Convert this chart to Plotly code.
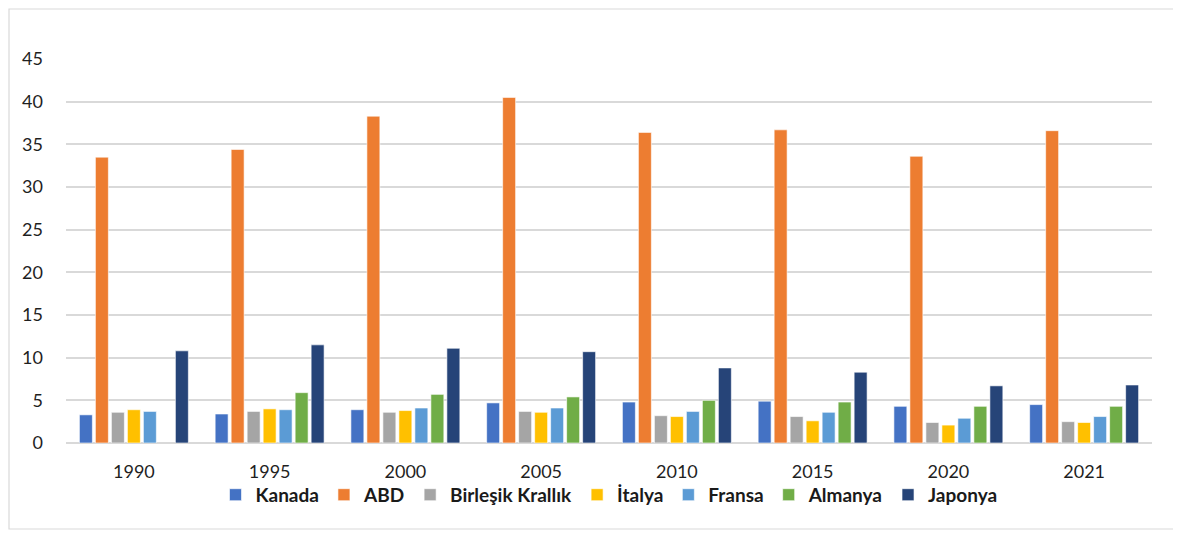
import plotly.graph_objects as go

years = ["1990", "1995", "2000", "2005", "2010", "2015", "2020", "2021"]
kanada = [3.3, 3.4, 3.9, 4.7, 4.8, 4.9, 4.3, 4.5]
abd = [33.5, 34.4, 38.3, 40.5, 36.4, 36.7, 33.6, 36.6]
birlesik = [3.6, 3.7, 3.6, 3.7, 3.2, 3.1, 2.4, 2.5]
italya = [3.9, 4.0, 3.8, 3.6, 3.1, 2.6, 2.1, 2.4]
fransa = [3.7, 3.9, 4.1, 4.1, 3.7, 3.6, 2.9, 3.1]
almanya = [None, 5.9, 5.7, 5.4, 5.0, 4.8, 4.3, 4.3]
japonya = [10.8, 11.5, 11.1, 10.7, 8.8, 8.3, 6.7, 6.8]

series_names = ["Kanada", "ABD", "Birleşik Krallık", "İtalya", "Fransa", "Almanya", "Japonya"]
series_values = [kanada, abd, birlesik, italya, fransa, almanya, japonya]
colors = ["#4472C4", "#ED7D31", "#A5A5A5", "#FFC000", "#5B9BD5", "#70AD47", "#264478"]

fig = go.Figure()
for name, vals, col in zip(series_names, series_values, colors):
    fig.add_trace(go.Bar(
        x=years, y=vals, name=name,
        marker=dict(color=col, line=dict(color="rgba(255,255,255,0.6)", width=1)),
    ))

W, H = 1173, 525
L, T = 58, 51
PW, PH = 1086, 384
fig.update_layout(
    width=W, height=H,
    margin=dict(l=L, r=W - L - PW, t=T, b=H - T - PH),
    paper_bgcolor="white", plot_bgcolor="white",
    barmode="group", bargap=0.175, bargroupgap=0.19,
    font=dict(family="Lato, Calibri, sans-serif", size=18, color="#1f1f1f"),
    showlegend=True,
    legend=dict(orientation="h", x=0.5, xanchor="center", y=-0.135, yanchor="middle",
                bgcolor="rgba(0,0,0,0)",
                font=dict(family="Lato, sans-serif", size=19, color="#1a1a1a", weight="bold"),
                itemwidth=30, tracegroupgap=0, itemclick=False),
    xaxis=dict(type="category", showgrid=False, showline=False, ticks="",
               ticklabelstandoff=16, tickfont=dict(size=18)),
    yaxis=dict(range=[0, 45], dtick=5, showgrid=True, gridcolor="#D9D9D9", gridwidth=1.5,
               zeroline=True, zerolinecolor="#D9D9D9", zerolinewidth=1.5,
               showline=False, ticks="", ticklabelstandoff=22, tickfont=dict(size=18)),
    shapes=[dict(type="rect", xref="paper", yref="paper",
                 x0=(1 - L) / PW, x1=(1167 - L) / PW,
                 y0=(T + PH - 521) / PH, y1=(T + PH - 1) / PH,
                 line=dict(color="#D9D9D9", width=1.2), fillcolor="rgba(0,0,0,0)", layer="below")],
)

fig.write_html("out.html")
